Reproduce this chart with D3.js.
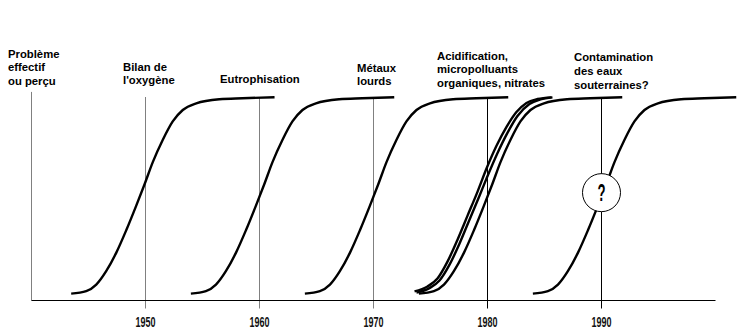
<!DOCTYPE html>
<html><head><meta charset="utf-8">
<script src="https://cdn.jsdelivr.net/npm/d3@7/dist/d3.min.js"></script>
<style>html,body{margin:0;padding:0;background:#fff}</style>
</head><body>
<svg id="chart" width="741" height="330"></svg>
<script>
// ---- data ----
const tickYears = [1950, 1960, 1970, 1980, 1990];
const tickLabels = ["1950", "1960", "1970", "1980", "1990"];
const gridDark = [false, false, false, true, true];

const curveOxygen = [[1943.48,3.4],[1944.80,4.6],[1945.68,7.8],[1946.55,14.4],[1947.43,23.4],[1948.31,34.5],[1949.18,46.5],[1949.91,57],[1950.64,68],[1951.52,79],[1952.39,88],[1953.27,93.6],[1954.45,96.9],[1956.49,98.9],[1958.51,99.4],[1961.32,99.9]];
const curveEutro = [[1953.98,3.4],[1955.30,4.6],[1956.18,7.8],[1957.05,14.4],[1957.93,23.4],[1958.81,34.5],[1959.68,46.5],[1960.41,57],[1961.14,68],[1962.02,79],[1962.89,88],[1963.77,93.6],[1964.95,96.9],[1966.99,98.9],[1969.01,99.4],[1971.82,99.9]];
const curveMetals = [[1963.98,3.4],[1965.30,4.6],[1966.18,7.8],[1967.05,14.4],[1967.93,23.4],[1968.81,34.5],[1969.68,46.5],[1970.41,57],[1971.14,68],[1972.02,79],[1972.89,88],[1973.77,93.6],[1974.95,96.9],[1976.99,98.9],[1979.01,99.4],[1981.82,99.9]];
const curveAcidA = [[1973.60,4.5],[1974.74,6.9],[1975.61,10.8],[1976.49,19.1],[1977.37,29.9],[1978.25,41.7],[1979.12,53.4],[1979.94,65.2],[1980.79,76],[1981.67,85.3],[1982.54,92.6],[1983.42,97.1],[1984.39,99],[1985.61,99.8]];
const curveAcidB = [[1973.77,3.9],[1974.91,6.1],[1975.79,9.8],[1976.67,17.6],[1977.54,27.9],[1978.42,39.7],[1979.30,51.5],[1979.94,60.3],[1980.88,72.5],[1981.75,82.4],[1982.63,90.7],[1983.68,96.6],[1984.65,98.8],[1985.70,99.8]];
const curveAcidC = [[1973.98,3.4],[1975.30,4.6],[1976.18,7.8],[1977.05,14.4],[1977.93,23.4],[1978.81,34.5],[1979.68,46.5],[1980.41,57],[1981.14,68],[1982.02,79],[1982.89,88],[1983.77,93.6],[1984.95,96.9],[1986.99,98.9],[1989.01,99.4],[1991.82,99.9]];
const curveGround = [[1983.98,3.4],[1985.30,4.6],[1986.18,7.8],[1987.05,14.4],[1987.93,23.4],[1988.81,34.5],[1989.68,46.5],[1990.41,57],[1991.14,68],[1992.02,79],[1992.89,88],[1993.77,93.6],[1994.95,96.9],[1996.99,98.9],[1999.01,99.4],[2001.82,99.9]];

const questionMark = {year: 1990, value: 53, text: "?"};

const yAxisLabel = ["Problème", "effectif", "ou perçu"];
const labelOxygen = ["Bilan de", "l'oxygène"];
const labelEutro = ["Eutrophisation"];
const labelMetals = ["Métaux", "lourds"];
const labelAcid = ["Acidification,", "micropolluants", "organiques, nitrates"];
const labelGround = ["Contamination", "des eaux", "souterraines?"];

// ---- layout ----
const svg = d3.select("#chart");
const x = d3.scaleLinear().domain([1940, 2000]).range([31.5, 715.5]);
const y = d3.scaleLinear().domain([0, 100]).range([300.5, 97]);

// y axis line
svg.append("line")
  .attr("x1", x(1940)).attr("x2", x(1940))
  .attr("y1", y(102.5)).attr("y2", y(0))
  .attr("stroke", "#808080").attr("stroke-width", 1);

// decade grid lines with ticks below the axis
svg.selectAll("line.grid").data(tickYears).join("line")
  .attr("class", "grid")
  .attr("x1", d => x(d)).attr("x2", d => x(d))
  .attr("y1", y(100)).attr("y2", y(0) + 8)
  .attr("stroke", (d, i) => gridDark[i] ? "#000" : "#808080")
  .attr("stroke-width", 1);

// x axis
svg.append("line")
  .attr("x1", x(1940)).attr("x2", x(2000))
  .attr("y1", y(0)).attr("y2", y(0))
  .attr("stroke", "#000").attr("stroke-width", 1.2);

// tick labels
svg.selectAll("text.tick").data(tickLabels).join("text")
  .attr("class", "tick")
  .attr("x", (d, i) => x(tickYears[i]))
  .attr("y", 326.5)
  .attr("text-anchor", "middle")
  .attr("font-family", "'Liberation Sans Narrow', 'Arial Narrow', 'Liberation Sans', sans-serif")
  .attr("font-weight", "bold")
  .attr("font-size", 14.5)
  .attr("textLength", 20)
  .attr("lengthAdjust", "spacingAndGlyphs")
  .attr("fill", "#111")
  .text(d => d);

// curves
const line = d3.line().x(d => x(d[0])).y(d => y(d[1])).curve(d3.curveMonotoneX);
const curves = [curveOxygen, curveEutro, curveMetals, curveAcidA, curveAcidB, curveAcidC, curveGround];
svg.selectAll("path.curve").data(curves).join("path")
  .attr("class", "curve")
  .attr("d", line)
  .attr("fill", "none")
  .attr("stroke", "#000")
  .attr("stroke-width", 2.4)
  .attr("stroke-linecap", "butt");

// question mark circle
svg.append("circle")
  .attr("cx", x(questionMark.year)).attr("cy", y(questionMark.value))
  .attr("r", 19).attr("fill", "#fff").attr("stroke", "#000").attr("stroke-width", 1);
svg.append("text")
  .attr("x", x(questionMark.year)).attr("y", y(questionMark.value) + 8.5)
  .attr("text-anchor", "middle")
  .attr("font-family", "'Liberation Sans Narrow', 'Arial Narrow', 'Liberation Sans', sans-serif")
  .attr("font-weight", "bold")
  .attr("font-size", 23)
  .attr("textLength", 8)
  .attr("lengthAdjust", "spacingAndGlyphs")
  .text(questionMark.text);

// header labels
const labelLayout = [
  {lines: yAxisLabel, x: 8, y: 58, lh: 13.3},
  {lines: labelOxygen, x: 123, y: 70.5, lh: 13.3},
  {lines: labelEutro, x: 220, y: 83, lh: 13.3},
  {lines: labelMetals, x: 357, y: 71.5, lh: 13.5},
  {lines: labelAcid, x: 437, y: 59.5, lh: 13.5},
  {lines: labelGround, x: 574, y: 61, lh: 14}
];
labelLayout.forEach(l => {
  const t = svg.append("text")
    .attr("font-family", "'Liberation Sans', Arial, sans-serif")
    .attr("font-weight", "bold")
    .attr("font-size", 11.3)
    .attr("fill", "#000");
  l.lines.forEach((s, i) => {
    t.append("tspan").attr("x", l.x).attr("y", l.y + i * l.lh).text(s);
  });
});
</script>
</body></html>
